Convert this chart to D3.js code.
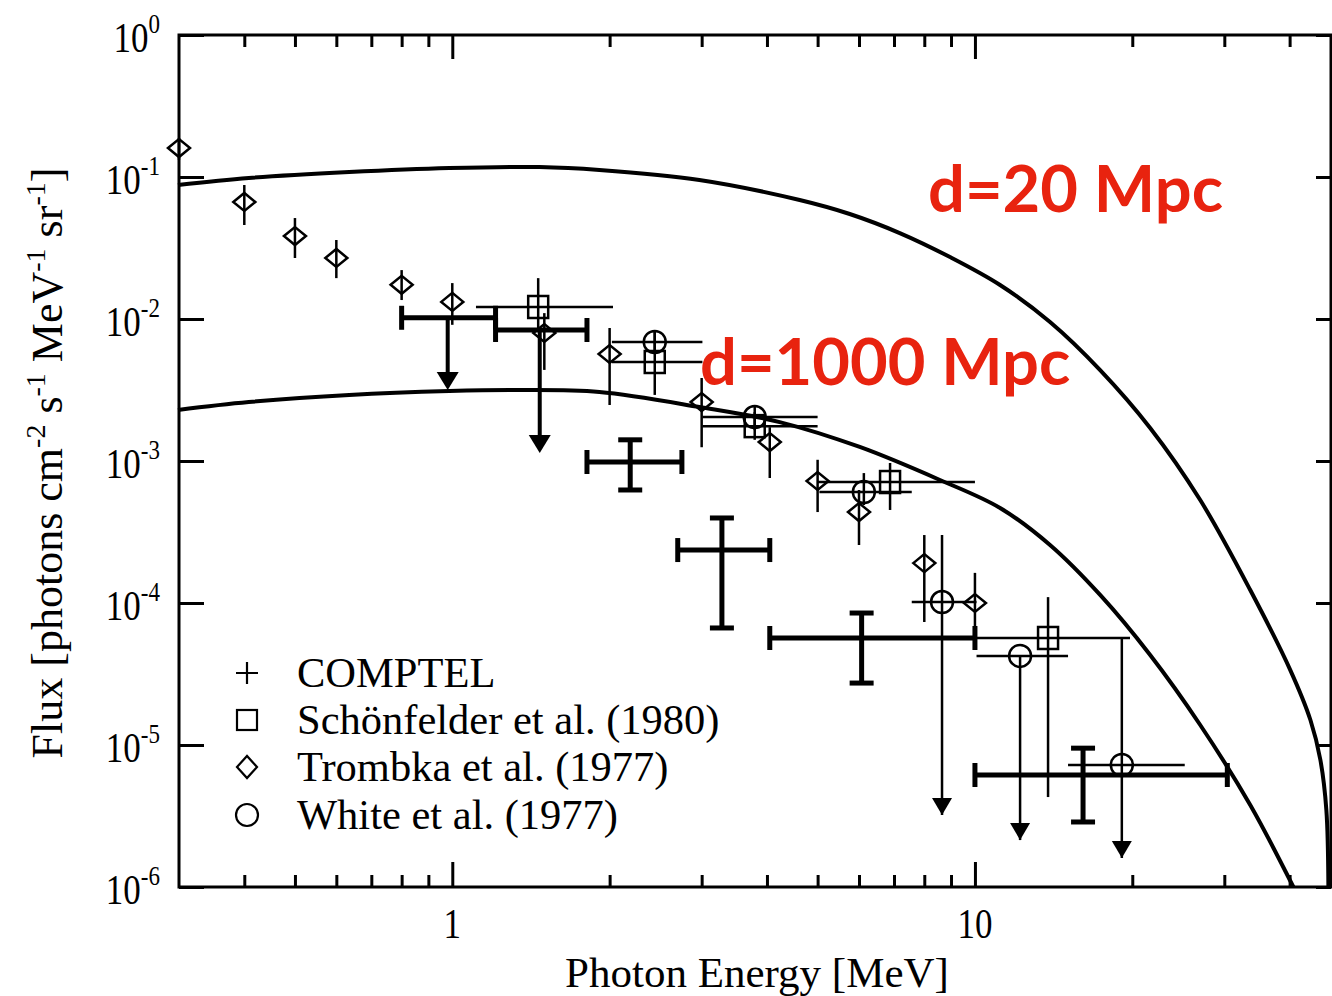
<!DOCTYPE html>
<html><head><meta charset="utf-8">
<script src="https://cdn.jsdelivr.net/npm/d3@7"></script>
<style>body{margin:0;background:#fff}</style>
</head><body><svg id="c" width="1332" height="996"></svg>
<script>
// ---------- data ----------
const xDomain = [0.3, 48];
const yDomain = [1e-6, 1];
const xMajorTicks = [1, 10];
const xTickLabels = ["1", "10"];
const xMinorTicks = [0.4,0.5,0.6,0.7,0.8,0.9,2,3,4,5,6,7,8,9,20,30,40];
const yMajorTicks = [1, 1e-1, 1e-2, 1e-3, 1e-4, 1e-5, 1e-6];
const yTickExponents = ["0", "-1", "-2", "-3", "-4", "-5", "-6"];

const curve20E = [0.2986,0.408,0.635,0.987,1.468,1.912,2.97,4.62,5.76,7.18,8.96,11.17,13.92,17.36,21.64,26.98,33.63,40.12,43.84,45.81,47.03,47.45];
const curve20F = [0.0879,0.0984,0.1084,0.1157,0.1175,0.112,0.0953,0.0689,0.0549,0.0403,0.0273,0.01736,0.00953,0.00437,0.00171,5.31e-4,1.234e-4,3.37e-5,1.5e-5,7.84e-6,3.48e-6,1e-6];
const curve1000E = [0.2986,0.408,0.635,0.987,1.344,1.912,2.97,4.23,6.02,8.57,11.17,13.92,17.36,21.64,26.98,33.63,40.67];
const curve1000F = [0.00229,0.0026,0.00292,0.00311,0.00316,0.00306,0.0024,0.00188,0.001255,7.35e-4,4.67e-4,2.56e-4,1.139e-4,4.30e-5,1.383e-5,3.78e-6,1e-6];

const comptelE   = [0.98, 1.47, 2.19, 3.28, 6.07, 16.1];
const comptelELo = [0.80, 1.21, 1.81, 2.70, 4.05, 10.0];
const comptelEHi = [1.21, 1.81, 2.75, 4.05, 10.0, 30.4];
const comptelF   = [0.0102, 0.00837, 9.84e-4, 2.36e-4, 5.67e-5, 6.15e-6];
const comptelFHi = [null, null, 1.41e-3, 3.97e-4, 8.5e-5, 9.5e-6];
const comptelFLo = [0.00316, 0.00114, 6.25e-4, 6.67e-5, 2.73e-5, 2.87e-6];
const comptelUL  = [true, true, false, false, false, false];

const trombkaE   = [0.30,0.40,0.50,0.60,0.80,1.0,1.5,2.0,3.0,4.05,5.0,6.0,8.0,10.0];
const trombkaF   = [0.160,0.0667,0.0384,0.0269,0.0174,0.0132,0.00797,0.00567,0.0026,0.00136,7.23e-4,4.37e-4,1.91e-4,1.0e-4];
const trombkaFHi = [0.188,0.0878,0.0514,0.036,0.0221,0.0179,0.0110,0.00864,0.00384,0.00173,0.00102,6.25e-4,3.01e-4,1.63e-4];
const trombkaFLo = [0.132,0.0459,0.0269,0.0194,0.0136,0.0091,0.00438,0.00248,0.00125,7.59e-4,4.37e-4,2.56e-4,7.35e-5,6.25e-5];

const schonE   = [1.46, 2.44, 3.79, 6.88, 13.8];
const schonELo = [1.11, 2.02, 3.01, 5.0, 10.07];
const schonEHi = [2.03, 3.01, 5.0, 10.0, 19.8];
const schonF   = [0.01215, 0.00498, 0.00176, 7.11e-4, 5.67e-5];
const schonFHi = [0.0194, 0.0081, 0.00221, 9.68e-4, 1.10e-4];
const schonFLo = [0.0085, 0.00292, 0.00141, 4.52e-4, 4.3e-6];

const whiteE   = [2.44, 3.79, 6.13, 8.65, 12.2, 19.1];
const whiteELo = [2.02, 3.01, 5.04, 7.57, 10.07, 15.07];
const whiteEHi = [3.01, 5.0, 7.57, 10.07, 15.07, 25.2];
const whiteF   = [0.00689, 0.00204, 6.05e-4, 1.016e-4, 4.24e-5, 7.23e-6];
const whiteFHi = [0.0081, 0.00248, 8.22e-4, 3.01e-4, 4.24e-5, 5.76e-5];
const whiteFLo = [0.00586, 0.00165, 4.9e-4, 3.21e-6, 2.14e-6, 1.6e-6];
const whiteUL  = [false, false, false, true, true, true];

const legendLabels = ["COMPTEL", "Schönfelder et al. (1980)", "Trombka et al. (1977)", "White et al. (1977)"];
const curveLabels = ["d=20 Mpc", "d=1000 Mpc"];

// ---------- layout ----------
const L = 179, R = 1331, T = 35, B = 887;
const svg = d3.select("#c");
const x = d3.scaleLog().domain(xDomain).range([L, R]);
const y = d3.scaleLog().domain(yDomain).range([B, T]);
const serif = "'Liberation Serif','Times New Roman',serif";
const red = "#e8230f";

// curves
const line = d3.line().x(d => x(d[0])).y(d => y(d[1])).curve(d3.curveCatmullRom.alpha(0.5));
svg.append("path").attr("d", line(d3.zip(curve20E, curve20F)))
  .attr("fill", "none").attr("stroke", "#000").attr("stroke-width", 4);
svg.append("path").attr("d", line(d3.zip(curve1000E, curve1000F)))
  .attr("fill", "none").attr("stroke", "#000").attr("stroke-width", 4);

const g = svg.append("g").attr("stroke", "#000").attr("fill", "none");
function seg(x1, y1, x2, y2, w) {
  g.append("line").attr("x1", x1).attr("y1", y1).attr("x2", x2).attr("y2", y2).attr("stroke-width", w);
}
function arrow(px, py, w, h) {
  g.append("path").attr("d", `M${px - w/2},${py - h}L${px + w/2},${py - h}L${px},${py}Z`)
    .attr("fill", "#000").attr("stroke", "none");
}

// Trombka (diamonds)
trombkaE.forEach((e, i) => {
  const px = x(e), py = y(trombkaF[i]);
  seg(px, y(trombkaFHi[i]), px, y(trombkaFLo[i]), 2.5);
  g.append("path").attr("d", `M${px - 11},${py}L${px},${py - 9}L${px + 11},${py}L${px},${py + 9}Z`).attr("stroke-width", 2.5);
});

// Schönfelder (squares)
schonE.forEach((e, i) => {
  const px = x(e), py = y(schonF[i]);
  seg(x(schonELo[i]), py, x(schonEHi[i]), py, 2.5);
  seg(px, y(schonFHi[i]), px, y(schonFLo[i]), 2.5);
  g.append("rect").attr("x", px - 10).attr("y", py - 11).attr("width", 20).attr("height", 22).attr("stroke-width", 2.5);
});

// White (circles)
whiteE.forEach((e, i) => {
  const px = x(e), py = y(whiteF[i]);
  seg(x(whiteELo[i]), py, x(whiteEHi[i]), py, 2.5);
  seg(px, y(whiteFHi[i]), px, y(whiteFLo[i]), 2.5);
  if (whiteUL[i]) arrow(px, y(whiteFLo[i]), 20, 17);
  g.append("circle").attr("cx", px).attr("cy", py).attr("r", 11).attr("stroke-width", 2.5);
});

// COMPTEL (thick crosses)
comptelE.forEach((e, i) => {
  const px = x(e), py = y(comptelF[i]);
  const x1 = x(comptelELo[i]), x2 = x(comptelEHi[i]);
  seg(x1, py, x2, py, 5);
  seg(x1, py - 12, x1, py + 12, 5);
  seg(x2, py - 12, x2, py + 12, 5);
  if (comptelUL[i]) {
    const yt = y(comptelFLo[i]);
    seg(px, py, px, yt - 10, 4);
    arrow(px, yt, 22, 18);
  } else {
    const ya = y(comptelFHi[i]), yb = y(comptelFLo[i]);
    seg(px, ya, px, yb, 5);
    seg(px - 12, ya, px + 12, ya, 5);
    seg(px - 12, yb, px + 12, yb, 5);
  }
});

// ---------- axes ----------
function styleAxis(sel) {
  sel.select(".domain").remove();
  sel.selectAll(".tick line").attr("stroke", "#000").attr("stroke-width", 3);
}
svg.append("g").attr("transform", `translate(0,${B})`)
  .call(d3.axisBottom(x).tickValues(xMinorTicks).tickSize(-12).tickFormat("")).call(styleAxis);
svg.append("g").attr("transform", `translate(0,${B})`)
  .call(d3.axisBottom(x).tickValues(xMajorTicks).tickSize(-25).tickFormat("")).call(styleAxis);
svg.append("g").attr("transform", `translate(0,${T})`)
  .call(d3.axisTop(x).tickValues(xMinorTicks).tickSize(-12).tickFormat("")).call(styleAxis);
svg.append("g").attr("transform", `translate(0,${T})`)
  .call(d3.axisTop(x).tickValues(xMajorTicks).tickSize(-24).tickFormat("")).call(styleAxis);
svg.append("g").attr("transform", `translate(${L},0)`)
  .call(d3.axisLeft(y).tickValues(yMajorTicks).tickSize(-25).tickFormat("")).call(styleAxis);
svg.append("g").attr("transform", `translate(${R},0)`)
  .call(d3.axisRight(y).tickValues(yMajorTicks).tickSize(-15).tickFormat("")).call(styleAxis);

svg.append("rect").attr("x", L).attr("y", T).attr("width", R - L).attr("height", B - T)
  .attr("fill", "none").attr("stroke", "#000").attr("stroke-width", 3);

// y tick labels
yMajorTicks.forEach((v, i) => {
  const t = svg.append("g").attr("transform", `translate(160,${y(v) + 17}) scale(1,1.2)`)
    .append("text").attr("text-anchor", "end").attr("font-family", serif).attr("font-size", 35).attr("fill", "#000");
  t.append("tspan").text("10");
  t.append("tspan").attr("font-size", 23).attr("dy", -16).text(yTickExponents[i]);
});
// x tick labels
xMajorTicks.forEach((v, i) => {
  svg.append("g").attr("transform", `translate(${x(v)},938) scale(1,1.2)`)
    .append("text").attr("text-anchor", "middle").attr("font-family", serif).attr("font-size", 35)
    .attr("fill", "#000").text(xTickLabels[i]);
});

// axis titles
svg.append("text").attr("x", 757).attr("y", 987).attr("text-anchor", "middle")
  .attr("font-family", serif).attr("font-size", 43).attr("fill", "#000").text("Photon Energy [MeV]");
const yt = svg.append("text").attr("transform", "translate(62,463) rotate(-90)").attr("text-anchor", "middle")
  .attr("font-family", serif).attr("font-size", 44).attr("fill", "#000");
[["Flux [photons cm", null], ["-2", "sup"], [" s", null], ["-1", "sup"], [" MeV", null], ["-1", "sup"], [" sr", null], ["-1", "sup"], ["]", null]]
  .forEach(([s, k]) => {
    const ts = yt.append("tspan").text(s);
    if (k === "sup") ts.attr("font-size", 28).attr("dy", -17);
    else ts.attr("dy", s === "Flux [photons cm" ? 0 : 17);
  });

// legend
const legY = [673, 720, 767, 815];
const lg = svg.append("g").attr("stroke", "#000").attr("fill", "none").attr("stroke-width", 2.2);
lg.append("path").attr("d", `M236,${legY[0]}H258M247,${legY[0] - 11}V${legY[0] + 11}`);
lg.append("rect").attr("x", 237).attr("y", legY[1] - 10).attr("width", 20).attr("height", 20);
lg.append("path").attr("d", `M237,${legY[2]}L247,${legY[2] - 11}L257,${legY[2]}L247,${legY[2] + 11}Z`);
lg.append("circle").attr("cx", 247).attr("cy", legY[3]).attr("r", 11);
legendLabels.forEach((s, i) => {
  svg.append("text").attr("x", 297).attr("y", legY[i] + 14).attr("font-family", serif)
    .attr("font-size", 42.5).attr("fill", "#000").text(s);
});

// red annotations
svg.append("text").attr("x", 928).attr("y", 212).attr("font-family", "Lato, 'Open Sans', sans-serif")
  .attr("font-weight", "bold").attr("font-size", 65).attr("fill", red).text(curveLabels[0]);
svg.append("text").attr("x", 700).attr("y", 385).attr("font-family", "Lato, 'Open Sans', sans-serif")
  .attr("font-weight", "bold").attr("font-size", 65).attr("fill", red).text(curveLabels[1]);
</script></body></html>
